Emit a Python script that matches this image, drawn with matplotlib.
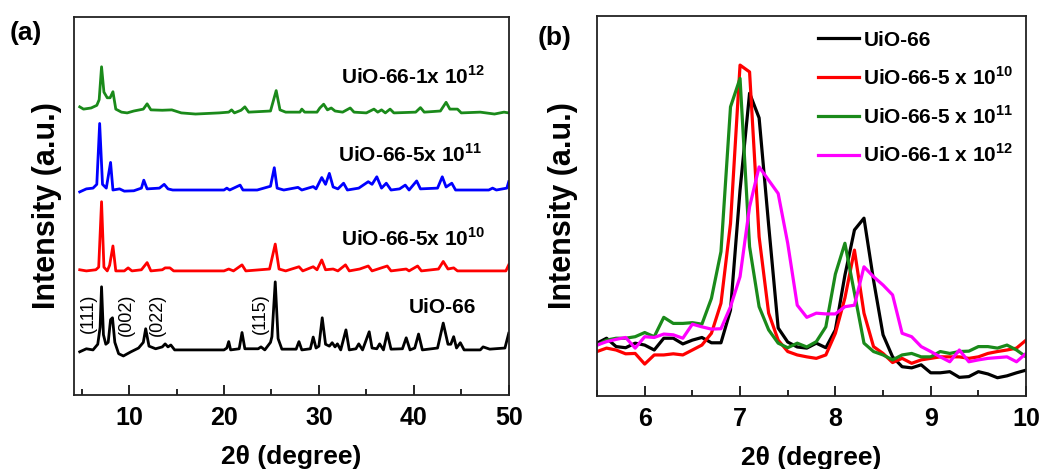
import matplotlib
matplotlib.use('Agg')
import matplotlib.pyplot as plt
from matplotlib.ticker import MultipleLocator

plt.rcParams['font.family'] = ['Liberation Sans', 'DejaVu Sans']
plt.rcParams['mathtext.fontset'] = 'custom'
plt.rcParams['mathtext.bf'] = 'Liberation Sans:bold'
plt.rcParams['mathtext.rm'] = 'Liberation Sans:bold'

# ---- panel (a): full XRD patterns (2theta, intensity above own baseline) ----
uio66_x = [4.8, 5.5, 6.2, 6.7, 6.95, 7.1, 7.3, 7.55, 7.8, 8.05, 8.25, 8.5, 8.9, 9.4, 10.2, 11.0, 11.5,
           11.75, 12.1, 12.8, 13.5, 13.8, 14.1, 14.4, 14.8, 20.0, 20.3, 20.5, 20.7, 21.6, 21.9, 22.2,
           23.6, 23.9, 24.3, 24.9, 25.05, 25.4, 25.7, 26.1, 27.6, 27.9, 28.2, 29.1, 29.4, 29.7, 30.0,
           30.35, 30.7, 31.1, 31.4, 31.7, 31.95, 32.3, 32.85, 33.2, 33.9, 34.2, 34.6, 35.3, 35.6, 36.1,
           36.4, 36.8, 37.2, 37.6, 38.8, 39.2, 39.6, 40.1, 40.5, 40.9, 42.5, 43.1, 43.6, 43.9, 44.2,
           44.5, 44.9, 45.3, 47.0, 47.3, 48.0, 49.6, 50.0]
uio66_y = [-0.5, 0.3, 0.0, 1.5, 6.0, 16.7, 4.0, 1.5, 2.0, 8.0, 8.5, 2.0, -1.0, -1.6, -0.5, 0.5, 2.0,
           5.6, 1.0, 0.3, 0.8, 1.6, 0.8, 1.3, 0.0, 0.0, 0.5, 2.2, 0.0, 0.3, 4.6, 0.3,
           0.3, 0.8, 0.0, 2.0, 3.5, 18.0, 3.0, 0.2, 0.2, 2.2, 0.0, 0.3, 3.4, 0.5, 1.0,
           8.5, 1.5, 1.0, 1.9, 0.8, 1.6, 0.0, 5.3, 0.0, 0.3, 1.6, 0.0, 4.8, 0.5, 0.3,
           1.6, 0.0, 4.5, 0.2, 0.3, 3.2, 0.0, 0.5, 4.2, 0.0, 0.5, 7.1, 1.5, 1.5, 3.5,
           0.5, 1.9, 0.0, 0.0, 0.8, 0.2, 0.5, 4.4]

e10_x = [4.8, 5.5, 6.5, 6.8, 7.1, 7.35, 7.7, 7.95, 8.3, 8.6, 9.5, 9.9, 10.3, 11.3, 11.9, 12.3, 13.5,
         13.8, 14.3, 14.7, 20.0, 20.5, 21.0, 21.9, 22.3, 24.8, 25.4, 25.8, 26.5, 27.9, 28.3, 29.4,
         29.8, 30.3, 30.7, 31.5, 32.0, 32.8, 33.2, 34.3, 35.2, 35.6, 37.2, 37.6, 39.2, 39.5, 40.4,
         40.8, 42.6, 43.1, 43.6, 44.2, 44.6, 49.7, 50.0]
e10_y = [0.3, 0.0, 0.3, 1.0, 18.3, 1.0, 0.0, 1.5, 6.6, 0.0, 0.0, 0.8, 0.0, 0.3, 2.2, 0.0, 0.3,
         0.8, 0.8, 0.0, 0.0, 0.5, 0.0, 1.6, 0.0, 0.5, 7.1, 0.5, 0.0, 1.1, 0.0, 1.1,
         0.3, 2.9, 0.3, 0.5, 0.0, 1.6, 0.0, 0.5, 1.3, 0.0, 1.3, 0.0, 0.5, 0.0, 1.3,
         0.0, 0.5, 2.5, 0.5, 0.8, 0.0, 0.0, 1.6]

e11_x = [4.8, 5.5, 6.2, 6.6, 6.9, 7.2, 7.6, 8.05, 8.3, 9.0, 9.5, 10.5, 11.3, 11.55, 11.9, 13.2, 13.7,
         14.1, 14.6, 20.0, 20.3, 20.6, 21.7, 22.0, 23.5, 24.9, 25.3, 25.6, 26.3, 27.8, 28.2, 29.4,
         29.7, 30.3, 30.7, 31.1, 31.5, 32.0, 32.6, 33.0, 34.2, 35.2, 35.6, 36.1, 36.6, 37.1, 37.6,
         38.5, 39.1, 39.5, 40.3, 40.7, 42.5, 43.0, 43.4, 44.0, 44.4, 47.9, 48.3, 48.7, 49.8, 50.0]
e11_y = [-0.5, 0.3, 0.5, 1.5, 17.6, 1.5, 0.5, 7.3, 0.0, 0.3, -0.3, -0.2, 0.5, 2.6, 0.3, 0.5, 1.5,
         0.3, 0.0, 0.0, 0.5, 0.0, 1.3, 0.0, 0.0, 1.0, 5.9, 0.5, 0.0, 0.7, 0.0, 0.9,
         0.3, 3.3, 1.5, 4.4, 0.8, 0.3, 1.8, 0.0, 0.5, 2.2, 1.5, 3.5, 0.5, 1.8, 0.0,
         0.3, 1.3, 0.0, 2.4, 0.3, 0.5, 3.5, 0.8, 1.8, 0.0, 0.0, 0.5, 0.0, 0.5, 2.2]

e12_x = [4.8, 5.2, 6.0, 6.6, 6.85, 7.1, 7.35, 7.7, 8.0, 8.3, 8.6, 9.2, 9.8, 10.5, 11.5, 11.9, 12.3,
         13.5, 14.5, 15.5, 17.0, 19.5, 20.5, 20.8, 21.1, 21.8, 22.2, 22.6, 24.9, 25.5, 25.9, 26.5,
         28.0, 28.2, 28.5, 29.8, 30.1, 30.5, 30.9, 31.3, 31.7, 32.5, 33.3, 33.7, 35.0, 35.8, 36.2,
         36.6, 37.0, 37.5, 37.9, 40.2, 40.7, 41.1, 42.8, 43.4, 43.8, 44.6, 45.0, 47.0, 48.5, 49.5, 50.0]
e12_y = [1.1, 0.5, 0.8, 1.5, 3.0, 11.7, 5.0, 3.5, 3.5, 5.1, 0.5, -0.3, -0.5, 0.0, 0.5, 1.9, 0.3,
         0.2, 0.3, -0.5, -0.8, -0.5, -0.3, 0.3, -0.5, 0.2, 1.1, -0.3, 0.0, 5.4, 0.3, -0.3,
         -0.3, 0.5, -0.3, -0.3, 0.8, 1.8, 0.3, 0.8, 0.0, -0.3, 0.8, -0.3, -0.5, 0.5, -0.3,
         0.3, -0.5, 0.5, -0.5, -0.3, 0.9, -0.3, 0.0, 2.3, 0.5, 0.5, -0.5, -0.3, -0.8, -0.3, -0.5]

a_offsets = [11.9, 32.8, 54.2, 75.1]
a_colors = ['#000000', '#ff0000', '#0000ff', '#1a8a1a']
a_labels = ['UiO-66', r'UiO-66-5x 10$^{\mathbf{10}}$', r'UiO-66-5x 10$^{\mathbf{11}}$',
            r'UiO-66-1x 10$^{\mathbf{12}}$']
a_label_pos = [(39.5, 23.0), (32.3, 41.5), (32.05, 63.5), (32.3, 84.1)]
hkl_labels = ['(111)', '(002)', '(022)', '(115)']
hkl_pos = [(5.67, 21.7), (9.7, 21.2), (12.95, 21.2), (23.8, 21.4)]

# ---- panel (b): zoom 5.5-10 degree ----
b_x = [5.5 + 0.1 * i for i in range(46)]
b_uio66 = [13.9, 15.2, 13.0, 12.7, 13.9, 13.4, 12.1, 15.2, 15.2, 13.7, 14.7, 15.4, 14.0, 14.0, 22.6,
           54.2, 79.7, 73.2, 45.0, 17.9, 14.2, 12.9, 12.6, 13.9, 12.7, 17.4, 31.8, 43.7, 46.8, 30.5,
           16.1, 10.3, 7.7, 7.4, 8.2, 6.1, 6.1, 6.4, 4.9, 5.1, 6.4, 5.8, 4.8, 5.3, 6.1, 6.8]
b_e10 = [11.7, 12.6, 12.1, 11.1, 11.2, 8.4, 10.8, 10.8, 11.1, 10.8, 12.1, 13.4, 16.5, 24.4, 45.4,
         87.1, 85.3, 41.9, 21.8, 14.7, 11.7, 10.8, 10.3, 9.9, 10.8, 16.5, 25.8, 38.4, 21.8, 13.0,
         11.2, 8.8, 9.9, 8.6, 9.5, 9.9, 10.3, 10.3, 10.3, 9.9, 10.3, 11.2, 11.7, 12.1, 12.6, 14.7]
b_e11 = [13.4, 14.7, 15.2, 15.2, 15.6, 16.7, 15.6, 20.7, 19.1, 19.1, 19.3, 18.9, 25.7, 38.0, 76.1,
         83.6, 39.3, 23.5, 17.4, 13.9, 12.7, 13.9, 12.9, 14.3, 18.2, 32.1, 40.2, 27.1, 13.9, 11.7,
         10.8, 9.5, 10.8, 11.2, 10.3, 10.3, 11.7, 11.2, 11.7, 11.8, 13.0, 13.0, 12.6, 13.4, 12.1, 10.3]
b_e12 = [13.4, 14.3, 14.9, 15.4, 12.6, 15.6, 15.4, 16.3, 16.1, 15.2, 18.9, 18.2, 17.6, 17.7, 23.5,
         31.4, 49.8, 60.3, 56.8, 53.3, 40.2, 23.9, 20.7, 21.8, 21.6, 21.6, 23.5, 23.9, 34.0, 31.4,
         29.2, 26.6, 16.5, 15.6, 13.0, 11.7, 10.3, 9.0, 12.1, 9.0, 9.5, 9.9, 10.1, 10.3, 9.0, 11.2]
b_colors = ['#000000', '#ff0000', '#1a8a1a', '#ff00ff']
b_labels = ['UiO-66', r'UiO-66-5 x 10$^{\mathbf{10}}$', r'UiO-66-5 x 10$^{\mathbf{11}}$',
            r'UiO-66-1 x 10$^{\mathbf{12}}$']

fig = plt.figure(figsize=(10.5, 4.69), dpi=100)
ax1 = fig.add_axes([0.0705, 0.158, 0.414, 0.806])
ax2 = fig.add_axes([0.5686, 0.1557, 0.4086, 0.810])

a_series = [(uio66_x, uio66_y), (e10_x, e10_y), (e11_x, e11_y), (e12_x, e12_y)]
for (xs, ys), off, c in zip(a_series, a_offsets, a_colors):
    ax1.plot(xs, [v + off for v in ys], color=c, lw=2.0)
for lab, (lx, ly) in zip(a_labels, a_label_pos):
    ax1.text(lx, ly, lab, fontsize=15, fontweight='bold', va='center', ha='left')
for lab, (hx, hy) in zip(hkl_labels, hkl_pos):
    ax1.text(hx, hy, lab, fontsize=13, rotation=90, va='center', ha='center')
ax1.set_xlim(4.2, 50)
ax1.set_ylim(0, 100)
ax1.xaxis.set_major_locator(MultipleLocator(10))
ax1.xaxis.set_minor_locator(MultipleLocator(5))

for ys, c, lab in zip([b_uio66, b_e10, b_e11, b_e12], b_colors, b_labels):
    ax2.plot(b_x, ys, color=c, lw=2.3, label=lab)
ax2.set_xlim(5.5, 10)
ax2.set_ylim(0, 100)
ax2.xaxis.set_major_locator(MultipleLocator(1))
ax2.xaxis.set_minor_locator(MultipleLocator(0.5))
leg = ax2.legend(loc='upper left', bbox_to_anchor=(0.48, 1.0), frameon=False, handlelength=2.0,
                 handletextpad=0.2, labelspacing=0.78, borderaxespad=0.3,
                 prop={'size': 15, 'weight': 'bold'})

for ax, lp in ((ax1, 9), (ax2, 14)):
    ax.set_yticks([])
    ax.tick_params(axis='x', which='major', direction='in', length=7, width=1.2,
                   labelsize=18, pad=8)
    ax.tick_params(axis='x', which='minor', direction='in', length=4, width=1.2)
    for lbl in ax.get_xticklabels():
        lbl.set_fontweight('bold')
    for s in ax.spines.values():
        s.set_linewidth(1.3)
        s.set_color('#222222')
    ax.set_xlabel('2θ (degree)', fontsize=19, fontweight='bold', labelpad=11)
    ax.set_ylabel('Intensity (a.u.)', fontsize=22, fontweight='bold', labelpad=lp)

fig.text(0.025, 0.93, '(a)', fontsize=19, fontweight='bold', ha='center', va='center')
fig.text(0.528, 0.918, '(b)', fontsize=19, fontweight='bold', ha='center', va='center')

fig.savefig('out.png', dpi=100)
